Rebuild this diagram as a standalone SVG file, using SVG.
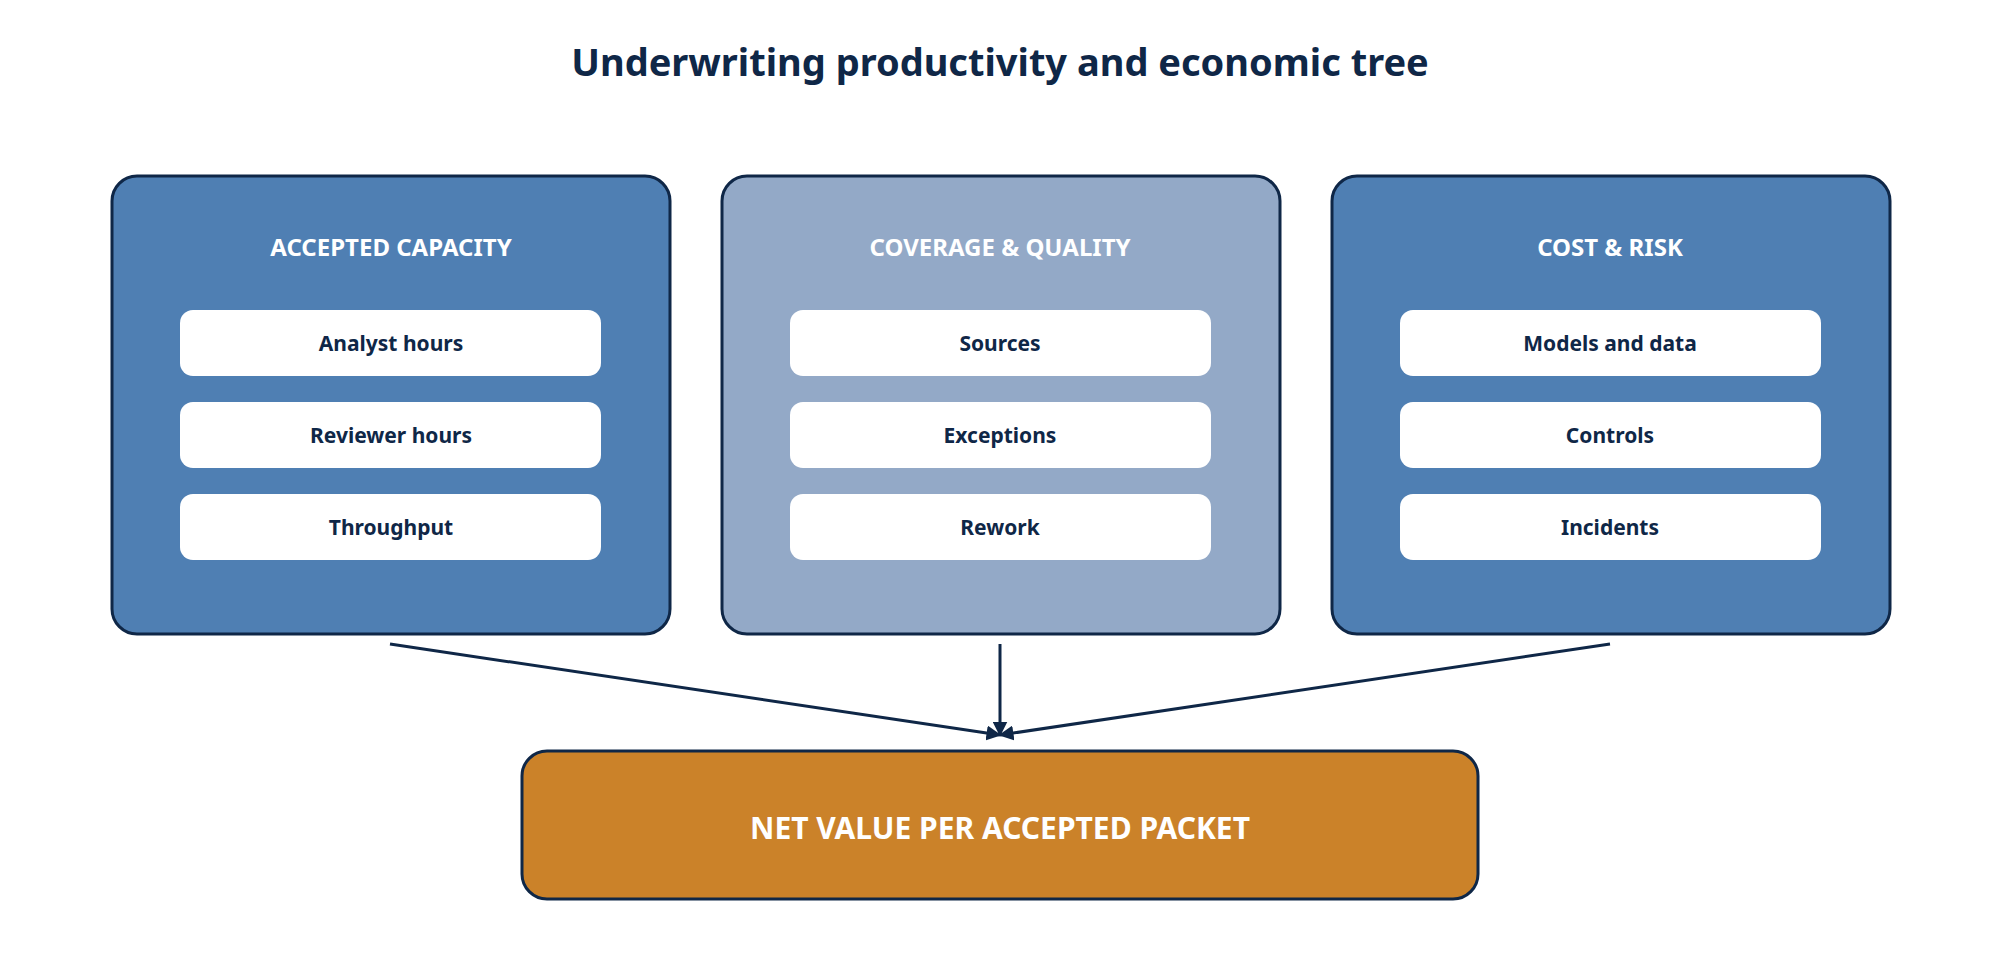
<svg xmlns="http://www.w3.org/2000/svg" width="2000" height="980" viewBox="0 0 2000 980">
<defs>
<style>
text{font-family:"Noto Sans","Open Sans","Liberation Sans",sans-serif;font-weight:700;text-anchor:middle;dominant-baseline:central}
.panel{stroke:#0f2747;stroke-width:3}
.pill{fill:#ffffff}
.pt{fill:#0f2747;font-size:21px}
.ht{fill:#ffffff;font-size:24px}
.conn{stroke:#0f2747;stroke-width:3;fill:none;marker-end:url(#arr)}
</style>
<marker id="arr" viewBox="0 0 10 10" refX="9" refY="5" markerWidth="5" markerHeight="5" orient="auto"><path d="M0,0L10,5L0,10z" fill="#0f2747"/></marker>
</defs>
<rect width="2000" height="980" fill="#ffffff"/>
<text x="1000" y="61" style="font-size:38px;fill:#0f2747">Underwriting productivity and economic tree</text>
<g id="capacity">
<rect class="panel" x="112" y="176" width="558" height="458" rx="25" fill="#4f7fb3"/>
<text class="ht" x="391" y="246">ACCEPTED CAPACITY</text>
<rect class="pill" x="180" y="310" width="421" height="66" rx="13"/><text class="pt" x="391" y="343">Analyst hours</text>
<rect class="pill" x="180" y="402" width="421" height="66" rx="13"/><text class="pt" x="391" y="435">Reviewer hours</text>
<rect class="pill" x="180" y="494" width="421" height="66" rx="13"/><text class="pt" x="391" y="527">Throughput</text>
</g>
<g id="coverage">
<rect class="panel" x="722" y="176" width="558" height="458" rx="25" fill="#93a9c7"/>
<text class="ht" x="1000" y="246">COVERAGE &amp; QUALITY</text>
<rect class="pill" x="790" y="310" width="421" height="66" rx="13"/><text class="pt" x="1000" y="343">Sources</text>
<rect class="pill" x="790" y="402" width="421" height="66" rx="13"/><text class="pt" x="1000" y="435">Exceptions</text>
<rect class="pill" x="790" y="494" width="421" height="66" rx="13"/><text class="pt" x="1000" y="527">Rework</text>
</g>
<g id="cost">
<rect class="panel" x="1332" y="176" width="558" height="458" rx="25" fill="#4f7fb3"/>
<text class="ht" x="1610" y="246">COST &amp; RISK</text>
<rect class="pill" x="1400" y="310" width="421" height="66" rx="13"/><text class="pt" x="1610" y="343">Models and data</text>
<rect class="pill" x="1400" y="402" width="421" height="66" rx="13"/><text class="pt" x="1610" y="435">Controls</text>
<rect class="pill" x="1400" y="494" width="421" height="66" rx="13"/><text class="pt" x="1610" y="527">Incidents</text>
</g>
<g id="connectors">
<path class="conn" d="M390,644L1000,735"/>
<path class="conn" d="M1000,644L1000,735"/>
<path class="conn" d="M1610,644L1000,735"/>
</g>
<g id="net">
<rect class="panel" x="522" y="751" width="956" height="148" rx="25" fill="#cb8229"/>
<text x="1000" y="827" style="font-size:30px;fill:#ffffff">NET VALUE PER ACCEPTED PACKET</text>
</g>
</svg>
